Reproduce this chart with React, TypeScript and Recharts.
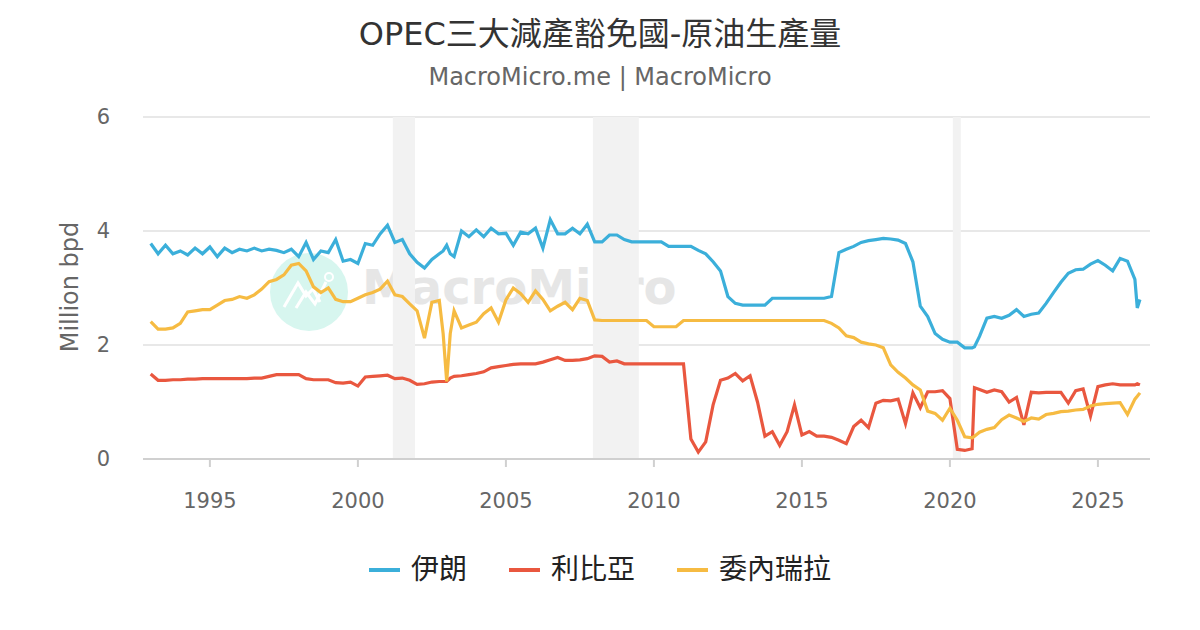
import { CartesianGrid, Line, LineChart, ReferenceArea, XAxis, YAxis } from "recharts";

// quarterly dates (decimal years) with a few extra points at sharp moves
const DATES = [
  1993, 1993.25, 1993.5, 1993.75,
  1994, 1994.25, 1994.5, 1994.75,
  1995, 1995.25, 1995.5, 1995.75,
  1996, 1996.25, 1996.5, 1996.75,
  1997, 1997.25, 1997.5, 1997.75,
  1998, 1998.25, 1998.5, 1998.75,
  1999, 1999.25, 1999.5, 1999.75,
  2000, 2000.25, 2000.5, 2000.75,
  2001, 2001.25, 2001.5, 2001.75,
  2002, 2002.25, 2002.5, 2002.75, 2002.88,
  2003, 2003.12, 2003.25, 2003.5, 2003.75,
  2004, 2004.25, 2004.5, 2004.75,
  2005, 2005.25, 2005.5, 2005.75,
  2006, 2006.25, 2006.5, 2006.75,
  2007, 2007.25, 2007.5, 2007.75,
  2008, 2008.25, 2008.5, 2008.75,
  2009, 2009.25, 2009.5, 2009.75,
  2010, 2010.25, 2010.5, 2010.75,
  2011, 2011.25, 2011.5, 2011.75,
  2012, 2012.25, 2012.5, 2012.75,
  2013, 2013.25, 2013.5, 2013.75,
  2014, 2014.25, 2014.5, 2014.75,
  2015, 2015.25, 2015.5, 2015.75,
  2016, 2016.25, 2016.5, 2016.75,
  2017, 2017.25, 2017.5, 2017.75,
  2018, 2018.25, 2018.5, 2018.75,
  2019, 2019.25, 2019.5, 2019.75,
  2020, 2020.25, 2020.5, 2020.75, 2020.83,
  2021, 2021.25, 2021.5, 2021.75,
  2022, 2022.25, 2022.5, 2022.75,
  2023, 2023.25, 2023.5, 2023.75,
  2024, 2024.25, 2024.5, 2024.75,
  2025, 2025.25, 2025.5, 2025.75,
  2026, 2026.25, 2026.33, 2026.42,
];

const IRAN = [
  3.78, 3.6, 3.75, 3.6,
  3.65, 3.58, 3.7, 3.6,
  3.72, 3.55, 3.7, 3.62,
  3.68, 3.65, 3.7, 3.65,
  3.68, 3.66, 3.62, 3.68,
  3.55, 3.8, 3.5, 3.65,
  3.62, 3.85, 3.47, 3.5,
  3.43, 3.78, 3.75, 3.95,
  4.1, 3.8, 3.85, 3.6,
  3.45, 3.35, 3.5, 3.6, 3.65,
  3.75, 3.6, 3.55, 4.0, 3.9,
  4.02, 3.9, 4.05, 3.95,
  3.96, 3.75, 3.98, 3.95,
  4.05, 3.7, 4.2, 3.95,
  3.95, 4.05, 3.95, 4.12,
  3.81, 3.81, 3.93, 3.93,
  3.85, 3.81, 3.81, 3.81,
  3.81, 3.81, 3.73, 3.73,
  3.73, 3.73, 3.66, 3.6,
  3.46, 3.3, 2.85, 2.73,
  2.7, 2.7, 2.7, 2.7,
  2.82, 2.82, 2.82, 2.82,
  2.82, 2.82, 2.82, 2.82,
  2.85, 3.62, 3.68, 3.73,
  3.8, 3.83, 3.85, 3.87,
  3.86, 3.84, 3.78, 3.46,
  2.68, 2.5, 2.2, 2.1,
  2.05, 2.05, 1.95, 1.95, 1.97,
  2.15, 2.47, 2.5, 2.47,
  2.52, 2.62, 2.5, 2.54,
  2.56, 2.73, 2.92, 3.1,
  3.26, 3.32, 3.33, 3.42,
  3.48, 3.4, 3.3, 3.52,
  3.47, 3.15, 2.65, 2.8,
];

const LIBYA = [
  1.49, 1.38, 1.38, 1.39,
  1.39, 1.4, 1.4, 1.41,
  1.41, 1.41, 1.41, 1.41,
  1.41, 1.41, 1.42, 1.42,
  1.45, 1.48, 1.48, 1.48,
  1.48, 1.41, 1.39, 1.39,
  1.39, 1.34, 1.33, 1.35,
  1.28, 1.44, 1.45, 1.46,
  1.47, 1.41, 1.42, 1.38,
  1.31, 1.32, 1.35, 1.36, 1.36,
  1.36, 1.42, 1.45, 1.46, 1.48,
  1.5, 1.53, 1.6, 1.62,
  1.64, 1.66, 1.67, 1.67,
  1.67, 1.7, 1.74, 1.78,
  1.73, 1.73, 1.74, 1.76,
  1.81, 1.8, 1.7, 1.72,
  1.67, 1.67, 1.67, 1.67,
  1.67, 1.67, 1.67, 1.67,
  1.67, 0.35, 0.12, 0.3,
  0.95, 1.38, 1.42, 1.5,
  1.37, 1.46, 1.0, 0.4,
  0.48, 0.24, 0.48, 0.95,
  0.42, 0.48, 0.4, 0.4,
  0.38, 0.33, 0.27, 0.57,
  0.68, 0.55, 0.98, 1.03,
  1.02, 1.05, 0.62, 1.16,
  0.9, 1.18, 1.18, 1.2,
  1.06, 0.17, 0.15, 0.18, 1.25,
  1.22, 1.17, 1.21, 1.18,
  1.0, 1.08, 0.6, 1.17,
  1.16, 1.17, 1.17, 1.17,
  0.98, 1.2, 1.23, 0.75,
  1.27, 1.3, 1.32, 1.3,
  1.3, 1.3, 1.32, 1.3,
];

const VENEZUELA = [
  2.41, 2.28, 2.28, 2.3,
  2.38, 2.58, 2.6, 2.62,
  2.62, 2.7, 2.78, 2.8,
  2.85, 2.82, 2.88, 2.98,
  3.11, 3.15, 3.23, 3.4,
  3.43, 3.3, 3.02, 2.92,
  3.0, 2.8, 2.76, 2.76,
  2.82, 2.88, 2.92, 2.98,
  3.12, 2.88, 2.85, 2.72,
  2.6, 2.12, 2.75, 2.78, 2.2,
  1.36, 2.2, 2.6, 2.3, 2.35,
  2.4, 2.55, 2.65, 2.4,
  2.79, 3.0, 2.9, 2.75,
  2.95, 2.8, 2.6, 2.68,
  2.75, 2.62, 2.82, 2.78,
  2.44, 2.43, 2.43, 2.43,
  2.43, 2.43, 2.43, 2.43,
  2.32, 2.32, 2.32, 2.32,
  2.43, 2.43, 2.43, 2.43,
  2.43, 2.43, 2.43, 2.43,
  2.43, 2.43, 2.43, 2.43,
  2.43, 2.43, 2.43, 2.43,
  2.43, 2.43, 2.43, 2.43,
  2.38, 2.3, 2.16, 2.13,
  2.05, 2.02, 2.0, 1.95,
  1.65, 1.52, 1.42, 1.3,
  1.21, 0.84, 0.8, 0.68,
  0.89, 0.68, 0.39, 0.37, 0.4,
  0.47, 0.52, 0.55, 0.69,
  0.77, 0.72, 0.66, 0.72,
  0.7, 0.78, 0.8, 0.83,
  0.84, 0.86, 0.87, 0.93,
  0.96, 0.97, 0.98, 0.99,
  0.78, 1.05, 1.1, 1.16,
];

const X_TICKS = [1995, 2000, 2005, 2010, 2015, 2020, 2025];
const Y_TICKS = [0, 2, 4, 6];
const RECESSIONS = [
  [2001.18, 2001.93],
  [2007.94, 2009.49],
  [2020.1, 2020.37],
];

const SERIES = [
  { key: "iran", name: "伊朗", color: "#3bafda" },
  { key: "libya", name: "利比亞", color: "#e9573f" },
  { key: "venezuela", name: "委內瑞拉", color: "#f6bb42" },
];

const FONT = '"DejaVu Sans", "Noto Sans CJK TC", sans-serif';

const chartData = DATES.map((date, i) => ({
  date,
  iran: IRAN[i],
  libya: LIBYA[i],
  venezuela: VENEZUELA[i],
}));

function ChartLegend() {
  return (
    <div
      style={{
        position: "absolute",
        top: 552,
        left: 0,
        width: 1200,
        display: "flex",
        justifyContent: "center",
        gap: 42,
        fontFamily: FONT,
        fontSize: 28,
        lineHeight: "36px",
        color: "#222",
      }}
    >
      {SERIES.map((s) => (
        <span key={s.key} style={{ display: "flex", alignItems: "center", gap: 11 }}>
          <span style={{ width: 31, height: 4, background: s.color, display: "inline-block" }} />
          {s.name}
        </span>
      ))}
    </div>
  );
}

function Watermark() {
  return (
    <div style={{ position: "absolute", left: 0, top: 0, width: 1200, height: 630, pointerEvents: "none" }}>
      <svg width={1200} height={630} style={{ position: "absolute", left: 0, top: 0 }}>
        <circle cx={309} cy={292} r={39} fill="#d7f6ef" />
        <polyline points="284,307 298,283 306,296 313,289 320,302" fill="none" stroke="#fff" strokeWidth={3} />
        <polyline points="296,308 306,292 315,304 326,282" fill="none" stroke="#fff" strokeWidth={3} />
        <circle cx={329} cy={277} r={4} fill="none" stroke="#fff" strokeWidth={2} />
      </svg>
      <div
        style={{
          position: "absolute",
          left: 362,
          top: 259,
          fontFamily: FONT,
          fontWeight: "bold",
          fontSize: 48,
          color: "#e6e6e6",
        }}
      >
        MacroMicro
      </div>
    </div>
  );
}

export default function App() {
  return (
    <div style={{ position: "absolute", left: 0, top: 0, width: 1200, height: 630, background: "#fff", overflow: "hidden" }}>
      <Watermark />
      <div
        style={{
          position: "absolute",
          top: 8,
          width: 1200,
          textAlign: "center",
          fontFamily: FONT,
          fontSize: 32,
          color: "#333",
        }}
      >
        OPEC三大減產豁免國-原油生產量
      </div>
      <div
        style={{
          position: "absolute",
          top: 63,
          width: 1200,
          textAlign: "center",
          fontFamily: FONT,
          fontSize: 24,
          color: "#666",
        }}
      >
        MacroMicro.me | MacroMicro
      </div>
      <div
        style={{
          position: "absolute",
          left: 70,
          top: 287,
          transform: "translate(-50%, -50%) rotate(-90deg)",
          fontFamily: FONT,
          fontSize: 24,
          color: "#666",
          whiteSpace: "nowrap",
        }}
      >
        Million bpd
      </div>
      <div style={{ position: "absolute", left: 0, top: 0 }}>
        <LineChart
          width={1200}
          height={630}
          data={chartData}
          margin={{ top: 117, right: 50, bottom: 0, left: 83 }}
        >
          {RECESSIONS.map(([x1, x2]) => (
            <ReferenceArea key={x1} x1={x1} x2={x2} y1={0} y2={6} fill="#f2f2f2" fillOpacity={1} stroke="none" ifOverflow="hidden" />
          ))}
          <CartesianGrid vertical={false} stroke="#e0e0e0" strokeWidth={1.5} />
          <XAxis
            dataKey="date"
            type="number"
            domain={[1992.74, 2026.76]}
            ticks={X_TICKS}
            allowDataOverflow
            height={171}
            tickSize={8}
            tickMargin={26}
            stroke="#d0d0d0"
            strokeWidth={2}
            tick={{ fontSize: 21, fill: "#666", fontFamily: FONT }}
          />
          <YAxis
            domain={[0, 6]}
            ticks={Y_TICKS}
            width={60}
            axisLine={false}
            tickLine={false}
            tickMargin={27}
            tick={{ fontSize: 21, fill: "#666", fontFamily: FONT }}
          />
          {SERIES.map((s) => (
            <Line
              key={s.key}
              type="linear"
              dataKey={s.key}
              name={s.name}
              stroke={s.color}
              strokeWidth={3.2}
              dot={false}
              isAnimationActive={false}
            />
          ))}
        </LineChart>
      </div>
      <ChartLegend />
    </div>
  );
}
